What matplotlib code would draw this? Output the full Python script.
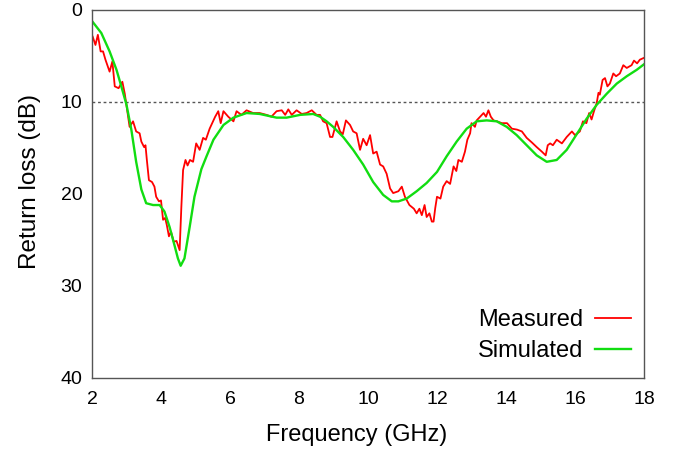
import matplotlib
matplotlib.use('Agg')
import matplotlib.pyplot as plt

# measured return loss
meas_freq = [2.02, 2.10, 2.17, 2.25, 2.32, 2.39, 2.51, 2.59, 2.66, 2.77, 2.88, 2.95,
             3.02, 3.09, 3.19, 3.28, 3.38, 3.43, 3.51, 3.55, 3.59, 3.65, 3.74, 3.81,
             3.86, 3.94, 4.00, 4.06, 4.12, 4.17, 4.23, 4.29, 4.37, 4.45, 4.54, 4.59,
             4.64, 4.71, 4.77, 4.84, 4.93, 5.02, 5.12, 5.22, 5.30, 5.41, 5.57, 5.66,
             5.73, 5.81, 5.95, 6.10, 6.19, 6.33, 6.48, 6.67, 6.86, 7.06, 7.20, 7.35,
             7.50, 7.60, 7.69, 7.79, 7.93, 8.08, 8.22, 8.37, 8.51, 8.61, 8.70, 8.80,
             8.90, 8.97, 9.09, 9.19, 9.27, 9.36, 9.48, 9.57, 9.67, 9.77, 9.86, 9.96,
             10.06, 10.15, 10.25, 10.35, 10.44, 10.54, 10.64, 10.73, 10.88, 10.98, 11.07, 11.20,
             11.33, 11.41, 11.49, 11.56, 11.64, 11.70, 11.78, 11.85, 11.90, 11.95, 12.00, 12.10,
             12.18, 12.28, 12.38, 12.48, 12.56, 12.62, 12.72, 12.81, 12.88, 12.96, 13.00, 13.10,
             13.15, 13.25, 13.35, 13.42, 13.49, 13.56, 13.64, 13.74, 13.88, 14.03, 14.17, 14.32,
             14.46, 14.60, 14.75, 14.89, 15.04, 15.15, 15.21, 15.28, 15.36, 15.47, 15.62, 15.76,
             15.91, 16.00, 16.14, 16.23, 16.33, 16.41, 16.48, 16.55, 16.63, 16.68, 16.72, 16.80,
             16.87, 16.94, 17.01, 17.11, 17.19, 17.30, 17.40, 17.50, 17.64, 17.71, 17.80, 17.88,
             18.00]
meas_db = [2.9, 3.8, 2.7, 4.5, 4.5, 5.4, 6.7, 5.6, 8.3, 8.5, 7.8, 9.1,
           10.9, 12.7, 12.1, 13.2, 13.4, 14.3, 14.9, 14.7, 16.3, 18.5, 18.7, 19.2,
           20.3, 20.8, 20.7, 22.8, 22.6, 23.4, 24.6, 24.1, 25.2, 25.1, 26.1, 21.4,
           17.4, 16.3, 16.9, 16.3, 16.5, 14.5, 15.2, 13.9, 14.1, 12.9, 11.6, 11.0,
           12.3, 11.0, 11.6, 12.1, 11.0, 11.4, 10.9, 11.2, 11.2, 11.4, 11.6, 11.0,
           10.9, 11.4, 10.8, 11.4, 10.9, 11.3, 11.2, 10.9, 11.4, 11.4, 12.1, 12.3,
           13.8, 13.8, 12.1, 13.2, 13.5, 12.0, 12.5, 13.2, 13.4, 15.2, 14.0, 14.7,
           13.6, 15.6, 15.4, 16.8, 17.0, 17.8, 19.4, 19.9, 19.7, 19.2, 20.3, 21.2,
           21.6, 22.1, 21.6, 22.3, 21.2, 22.5, 22.1, 23.0, 23.0, 21.5, 20.3, 20.5,
           19.2, 18.6, 18.9, 17.0, 17.5, 16.3, 16.5, 15.4, 14.1, 13.4, 12.3, 12.7,
           12.0, 11.6, 11.2, 11.6, 10.9, 11.6, 12.0, 12.1, 12.3, 12.3, 12.9, 13.0,
           13.2, 13.9, 14.4, 14.9, 15.4, 15.8, 14.7, 14.5, 14.7, 14.1, 14.5, 13.8,
           13.2, 13.6, 13.2, 12.1, 12.3, 11.2, 11.9, 11.0, 10.1, 9.0, 9.2, 7.6,
           7.4, 8.3, 8.0, 6.9, 7.2, 6.9, 6.0, 6.3, 6.0, 5.5, 5.8, 5.4,
           5.2]

# simulated return loss
sim_freq = [2.00, 2.27, 2.51, 2.71, 2.85, 3.00, 3.14, 3.28, 3.43, 3.57, 3.77, 3.96,
            4.10, 4.25, 4.40, 4.49, 4.57, 4.68, 4.83, 4.97, 5.17, 5.32, 5.52, 5.81,
            6.10, 6.48, 6.86, 7.35, 7.64, 8.03, 8.41, 8.61, 8.80, 8.99, 9.28, 9.57,
            9.86, 10.15, 10.44, 10.69, 10.88, 11.12, 11.41, 11.70, 12.00, 12.28, 12.57, 12.86,
            13.15, 13.44, 13.73, 14.02, 14.31, 14.60, 14.89, 15.18, 15.47, 15.76, 16.05, 16.34,
            16.63, 16.92, 17.21, 17.50, 17.79, 18.00]
sim_db = [1.2, 2.5, 4.5, 6.5, 8.3, 10.3, 13.0, 16.5, 19.5, 21.0, 21.2, 21.2,
          21.9, 23.6, 25.7, 27.0, 27.8, 27.0, 23.6, 20.3, 17.3, 15.9, 14.1, 12.5,
          11.7, 11.2, 11.3, 11.7, 11.7, 11.4, 11.3, 11.6, 12.1, 12.7, 13.8, 15.2,
          16.8, 18.7, 20.1, 20.8, 20.8, 20.5, 19.7, 18.8, 17.6, 15.9, 14.3, 12.9,
          12.1, 12.0, 12.1, 12.7, 13.6, 14.7, 15.8, 16.5, 16.3, 15.2, 13.5, 11.8,
          10.3, 9.1, 8.0, 7.2, 6.5, 5.9]

x_ticks = [2, 4, 6, 8, 10, 12, 14, 16, 18]
y_ticks = [0, 10, 20, 30, 40]
threshold = 10

plt.rcParams['font.family'] = ['Liberation Sans', 'DejaVu Sans']

fig = plt.figure(figsize=(6.75, 4.5), dpi=100)
ax = fig.add_axes([92 / 675, 1 - 378 / 450, 552 / 675, 368 / 450])

ax.axhline(threshold, color='#555555', linestyle=(0, (2, 2)), linewidth=1.0)
ax.plot(meas_freq, meas_db, color='#ff0000', linewidth=1.3, label='Measured')
ax.plot(sim_freq, sim_db, color='#11dd11', linewidth=1.7, label='Simulated')

ax.set_xlim(2, 18)
ax.set_ylim(40, 0)
ax.set_xticks(x_ticks)
ax.set_yticks(y_ticks)
ax.tick_params(length=0, labelsize=14, colors='black')
ax.tick_params(axis='x', pad=9)
ax.tick_params(axis='y', pad=7)
for s in ax.spines.values():
    s.set_color('#555555')
    s.set_linewidth(1.0)

ax.set_xlabel('Frequency (GHz)', fontsize=17)
ax.set_ylabel('Return loss (dB)', fontsize=17.5)
ax.xaxis.set_label_coords(0.48, -0.125)
ax.yaxis.set_label_coords(-0.092, 0.533)

ax.legend(loc='lower right', bbox_to_anchor=(0.976, 0.043), frameon=False,
          markerfirst=False, fontsize=17, handlelength=1.5, handletextpad=0.5,
          labelspacing=0.38, borderpad=0, borderaxespad=0)

fig.savefig('out.png', dpi=100)
